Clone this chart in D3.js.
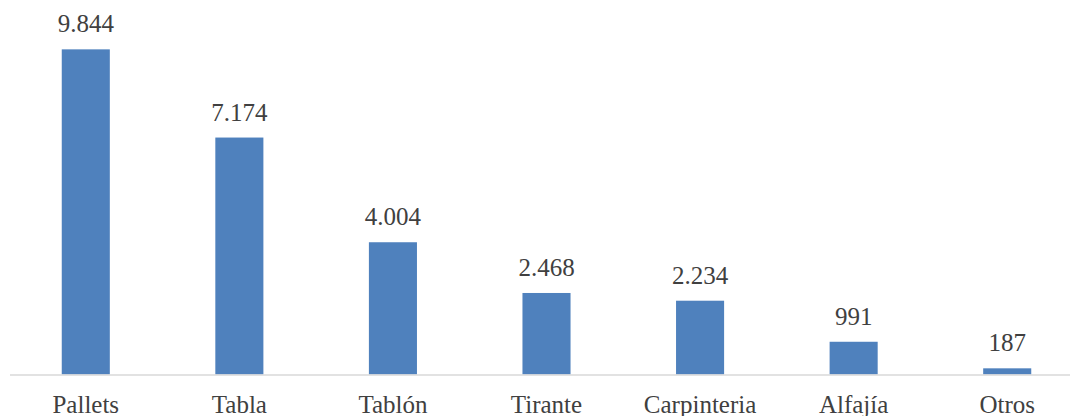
<!DOCTYPE html>
<html>
<head>
<meta charset="utf-8">
<script src="https://cdn.jsdelivr.net/npm/d3@7"></script>
<style>
  body { margin: 0; background: #fff; }
  text { font-family: "Liberation Serif", serif; fill: #404040; }
</style>
</head>
<body>
<svg id="chart" width="1070" height="416"></svg>
<script>
const categories = ['Pallets', 'Tabla', 'Tablón', 'Tirante', 'Carpinteria', 'Alfajía', 'Otros'];
const values = [9844, 7174, 4004, 2468, 2234, 991, 187];
const valueLabels = ['9.844', '7.174', '4.004', '2.468', '2.234', '991', '187'];

const svg = d3.select('#chart');
const baseY = 374.5;

const x = d3.scaleBand()
  .domain(categories)
  .range([9, 1084])
  .paddingInner(0.687)
  .paddingOuter(0.3435);

const y = d3.scaleLinear()
  .domain([0, 10000])
  .range([baseY, 44.2]);

// Bars
svg.append('g')
  .selectAll('rect')
  .data(categories)
  .join('rect')
  .attr('x', d => x(d))
  .attr('y', (d, i) => y(values[i]))
  .attr('width', x.bandwidth())
  .attr('height', (d, i) => baseY - y(values[i]))
  .style('fill', '#4f81bd');

// Axis line
svg.append('line')
  .attr('x1', 10)
  .attr('x2', 1070)
  .attr('y1', baseY + 0.5)
  .attr('y2', baseY + 0.5)
  .style('stroke', '#d9d9d9')
  .style('stroke-width', 1.5);

// Value labels
svg.append('g')
  .selectAll('text')
  .data(categories)
  .join('text')
  .attr('x', d => x(d) + x.bandwidth() / 2)
  .attr('y', (d, i) => y(values[i]) - 17)
  .attr('text-anchor', 'middle')
  .style('font-size', '25px')
  .text((d, i) => valueLabels[i]);

// Category labels
svg.append('g')
  .selectAll('text')
  .data(categories)
  .join('text')
  .attr('x', d => x(d) + x.bandwidth() / 2)
  .attr('y', 413)
  .attr('text-anchor', 'middle')
  .style('font-size', '25px')
  .text(d => d);
</script>
</body>
</html>
